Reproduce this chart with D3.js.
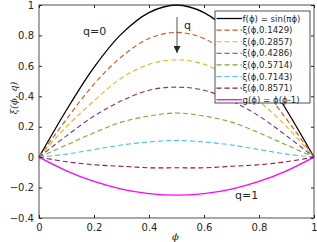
<!DOCTYPE html>
<html>
<head>
<meta charset="utf-8">
<script src="https://cdn.jsdelivr.net/npm/d3@7"></script>
<style>
body { margin: 0; background: #fff; }
text { font-family: "DejaVu Sans", sans-serif; fill: #262626; }
</style>
</head>
<body>
<script>
// values at phi = 0, 0.1, ..., 1
var phi = [0, 0.1, 0.2, 0.3, 0.4, 0.5, 0.6, 0.7, 0.8, 0.9, 1];
var fVals  = [0, 0.31, 0.59, 0.81, 0.95, 1, 0.95, 0.81, 0.59, 0.31, 0];
var xi1 = [0, 0.25, 0.48, 0.66, 0.78, 0.82, 0.78, 0.66, 0.48, 0.25, 0];
var xi2 = [0, 0.20, 0.37, 0.52, 0.61, 0.64, 0.61, 0.52, 0.37, 0.20, 0];
var xi3 = [0, 0.14, 0.27, 0.37, 0.44, 0.46, 0.44, 0.37, 0.27, 0.14, 0];
var xi4 = [0, 0.08, 0.16, 0.23, 0.27, 0.29, 0.27, 0.23, 0.16, 0.08, 0];
var xi5 = [0, 0.02, 0.05, 0.08, 0.10, 0.11, 0.10, 0.08, 0.05, 0.02, 0];
var xi6 = [0, -0.03, -0.05, -0.06, -0.07, -0.07, -0.07, -0.06, -0.05, -0.03, 0];
var gVals  = [0, -0.09, -0.16, -0.21, -0.24, -0.25, -0.24, -0.21, -0.16, -0.09, 0];

var seriesNames = ["f(\u03d5) = sin(\u03c0\u03d5)", "\u03be(\u03d5,0.1429)", "\u03be(\u03d5,0.2857)",
  "\u03be(\u03d5,0.4286)", "\u03be(\u03d5,0.5714)", "\u03be(\u03d5,0.7143)", "\u03be(\u03d5,0.8571)",
  "g(\u03d5) = \u03d5(\u03d5-1)"];
var seriesValues = [fVals, xi1, xi2, xi3, xi4, xi5, xi6, gVals];
var seriesColors = ["#000000", "#D95319", "#EDB120", "#7E2F8E", "#77AC30", "#4DBEEE", "#A2142F", "#FF00FF"];
var seriesDashed = [false, true, true, true, true, true, true, false];

var xTicks = [0, 0.2, 0.4, 0.6, 0.8, 1];
var yTicks = [-0.4, -0.2, 0, 0.2, 0.4, 0.6, 0.8, 1];

var W = 317, H = 242;
var mLeft = 39, mRight = 314, mTop = 5, mBottom = 218;

var svg = d3.select("body").append("svg")
	.attr("width", W)
	.attr("height", H);

var x = d3.scaleLinear().domain([0, 1]).range([mLeft, mRight]);
var y = d3.scaleLinear().domain([-0.4, 1]).range([mBottom, mTop]);

var line = d3.line()
	.x(function(d){ return x(d[0]); })
	.y(function(d){ return y(d[1]); })
	.curve(d3.curveCatmullRom);

var plot = svg.append("g");
seriesValues.forEach(function(vals, i){
	plot.append("path")
		.datum(phi.map(function(p, j){ return [p, vals[j]]; }))
		.attr("d", line)
		.attr("fill", "none")
		.attr("stroke", seriesColors[i])
		.attr("stroke-width", seriesDashed[i] ? 1.1 : 1.3)
		.attr("stroke-dasharray", seriesDashed[i] ? "5,3" : null);
});

// axes, ticks inward and mirrored
function styleAxis(g){
	g.select(".domain").remove();
	g.selectAll("line").attr("stroke", "#262626");
	g.selectAll("text").style("font-size", "10px").attr("fill", "#262626");
}
svg.append("g").attr("transform", "translate(0," + mBottom + ")")
	.call(d3.axisBottom(x).tickValues(xTicks).tickSize(-3).tickPadding(6).tickFormat(d3.format("")))
	.call(styleAxis);
svg.append("g").attr("transform", "translate(0," + mTop + ")")
	.call(d3.axisTop(x).tickValues(xTicks).tickSize(-3).tickFormat(""))
	.call(styleAxis);
svg.append("g").attr("transform", "translate(" + mLeft + ",0)")
	.call(d3.axisLeft(y).tickValues(yTicks).tickSize(-3).tickPadding(5).tickFormat(d3.format("")))
	.call(styleAxis);
svg.append("g").attr("transform", "translate(" + mRight + ",0)")
	.call(d3.axisRight(y).tickValues(yTicks).tickSize(-3).tickFormat(""))
	.call(styleAxis);

svg.append("rect")
	.attr("x", mLeft).attr("y", mTop)
	.attr("width", mRight - mLeft).attr("height", mBottom - mTop)
	.attr("fill", "none").attr("stroke", "#262626").attr("stroke-width", 0.8);

// labels
svg.append("text").text("\u03d5")
	.attr("x", (mLeft + mRight) / 2 - 1).attr("y", 240)
	.attr("text-anchor", "middle")
	.style("font-family", "'DejaVu Serif', serif")
	.style("font-size", "10px").style("font-style", "italic");
svg.append("text").text("\u03be(\u03d5, q)")
	.attr("transform", "translate(17,98) rotate(-90)")
	.attr("text-anchor", "middle")
	.style("font-family", "'DejaVu Serif', serif")
	.style("font-size", "10px").style("font-style", "italic");

// annotations
svg.append("text").text("q=0").attr("x", 83).attr("y", 35).style("font-size", "11px");
svg.append("text").text("q=1").attr("x", 235).attr("y", 199).style("font-size", "11px");
svg.append("text").text("q").attr("x", 184).attr("y", 29).style("font-size", "11px");
svg.append("defs").append("marker")
	.attr("id", "arr").attr("viewBox", "0 0 10 10")
	.attr("refX", 10).attr("refY", 5)
	.attr("markerWidth", 7).attr("markerHeight", 7)
	.attr("markerUnits", "userSpaceOnUse")
	.attr("orient", "auto")
	.append("path").attr("d", "M0,0 L10,5 L0,10 Z").attr("fill", "#262626");
svg.append("line")
	.attr("x1", 177).attr("y1", 17).attr("x2", 177).attr("y2", 53)
	.attr("stroke", "#262626").attr("stroke-width", 0.8)
	.attr("marker-end", "url(#arr)");

// legend
var legend = svg.append("g").attr("class", "legend");
var lx = 215, ly = 11, lw = 95, rowH = 11.6;
legend.append("rect")
	.attr("x", lx).attr("y", ly)
	.attr("width", lw).attr("height", 92)
	.attr("fill", "#fff").attr("stroke", "#262626").attr("stroke-width", 0.8);
seriesNames.forEach(function(name, i){
	var cy = ly + 7.5 + i * rowH;
	legend.append("line")
		.attr("x1", lx + 1.5).attr("x2", lx + 27)
		.attr("y1", cy).attr("y2", cy)
		.attr("stroke", seriesColors[i])
		.attr("stroke-width", seriesDashed[i] ? 1.1 : 1.3)
		.attr("stroke-dasharray", seriesDashed[i] ? "5,3" : null);
	legend.append("text").text(name)
		.attr("x", lx + 27.5).attr("y", cy + 3)
		.style("font-size", "8.6px");
});
</script>
</body>
</html>
